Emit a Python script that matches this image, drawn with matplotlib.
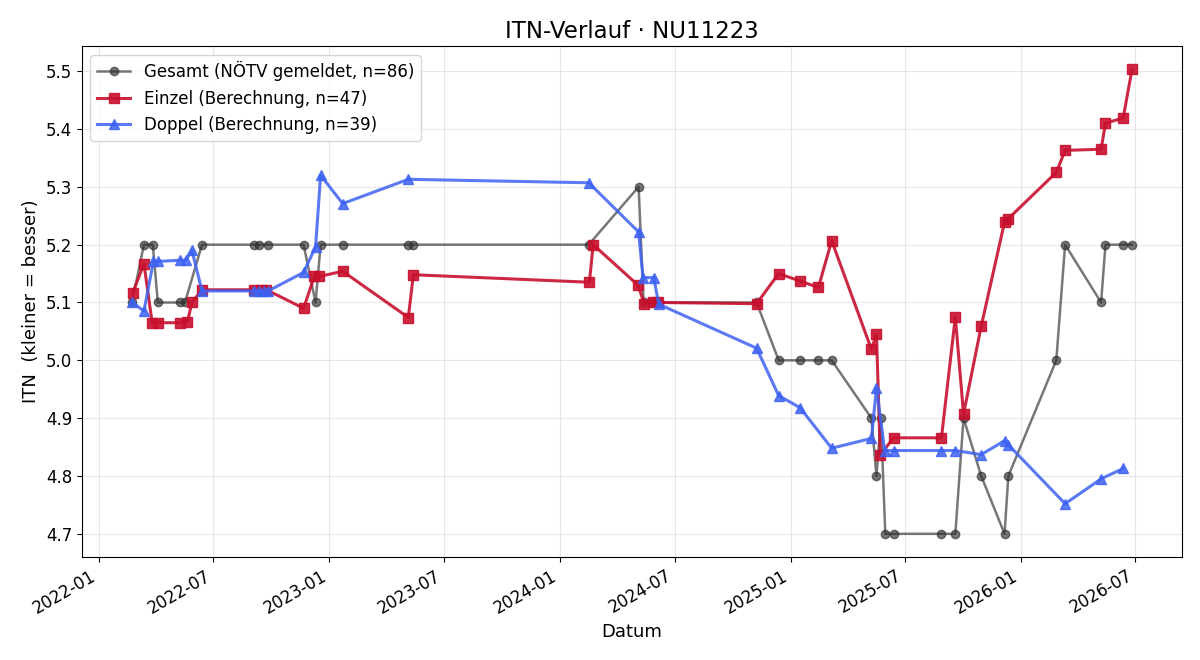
import matplotlib
matplotlib.use("Agg")
import matplotlib.pyplot as plt
import matplotlib.dates as mdates
import pandas as pd

gesamt_dates = ["2022-02-22", "2022-03-13", "2022-03-27", "2022-04-04", "2022-05-09", "2022-05-17",
                "2022-06-13", "2022-09-04", "2022-09-12", "2022-09-26", "2022-11-21", "2022-12-10",
                "2022-12-18", "2023-01-22", "2023-05-05", "2023-05-13", "2024-02-16", "2024-05-05",
                "2024-05-13", "2024-05-28", "2024-06-05", "2024-11-08", "2024-12-13", "2025-01-16",
                "2025-02-14", "2025-03-07", "2025-05-09", "2025-05-17", "2025-05-24", "2025-05-31",
                "2025-06-13", "2025-08-28", "2025-09-19", "2025-10-02", "2025-10-30", "2025-12-06",
                "2025-12-12", "2026-02-26", "2026-03-12", "2026-05-08", "2026-05-15", "2026-06-12",
                "2026-06-26"]
gesamt_values = [5.1, 5.2, 5.2, 5.1, 5.1, 5.1,
                 5.2, 5.2, 5.2, 5.2, 5.2, 5.1,
                 5.2, 5.2, 5.2, 5.2, 5.2, 5.3,
                 5.1, 5.1, 5.1, 5.1, 5.0, 5.0,
                 5.0, 5.0, 4.9, 4.8, 4.9, 4.7,
                 4.7, 4.7, 4.7, 4.9, 4.8, 4.7,
                 4.8, 5.0, 5.2, 5.1, 5.2, 5.2,
                 5.2]

einzel_dates = ["2022-02-23", "2022-03-13", "2022-03-26", "2022-04-04", "2022-05-09", "2022-05-21",
                "2022-05-28", "2022-06-13", "2022-09-04", "2022-09-14", "2022-09-23", "2022-11-21",
                "2022-12-08", "2022-12-16", "2023-01-22", "2023-05-06", "2023-05-14", "2024-02-17",
                "2024-02-23", "2024-05-04", "2024-05-14", "2024-05-28", "2024-06-05", "2024-11-08",
                "2024-12-13", "2025-01-16", "2025-02-14", "2025-03-07", "2025-05-09", "2025-05-17",
                "2025-05-23", "2025-06-13", "2025-08-28", "2025-09-19", "2025-10-02", "2025-10-30",
                "2025-12-06", "2025-12-12", "2026-02-26", "2026-03-12", "2026-05-08", "2026-05-15",
                "2026-06-12", "2026-06-26"]
einzel_values = [5.116, 5.167, 5.065, 5.065, 5.065, 5.067,
                 5.100, 5.122, 5.122, 5.122, 5.122, 5.090,
                 5.145, 5.145, 5.154, 5.074, 5.148, 5.135,
                 5.200, 5.130, 5.098, 5.100, 5.100, 5.098,
                 5.150, 5.137, 5.126, 5.207, 5.019, 5.045,
                 4.836, 4.866, 4.866, 5.075, 4.907, 5.059,
                 5.239, 5.245, 5.325, 5.363, 5.365, 5.410,
                 5.419, 5.503]

doppel_dates = ["2022-02-22", "2022-03-13", "2022-03-28", "2022-04-04", "2022-05-09", "2022-05-18",
                "2022-05-28", "2022-06-13", "2022-09-04", "2022-09-12", "2022-09-20", "2022-09-26",
                "2022-11-21", "2022-12-10", "2022-12-18", "2023-01-22", "2023-05-06", "2024-02-16",
                "2024-05-05", "2024-05-12", "2024-05-29", "2024-06-06", "2024-11-08", "2024-12-13",
                "2025-01-16", "2025-03-07", "2025-05-09", "2025-05-17", "2025-05-30", "2025-06-13",
                "2025-08-28", "2025-09-19", "2025-10-30", "2025-12-06", "2025-12-12", "2026-03-12",
                "2026-05-08", "2026-06-12"]
doppel_values = [5.101, 5.085, 5.171, 5.171, 5.173, 5.173,
                 5.190, 5.120, 5.120, 5.120, 5.120, 5.120,
                 5.152, 5.196, 5.320, 5.271, 5.313, 5.307,
                 5.222, 5.143, 5.143, 5.097, 5.021, 4.939,
                 4.918, 4.848, 4.865, 4.952, 4.844, 4.844,
                 4.844, 4.844, 4.837, 4.861, 4.854, 4.752,
                 4.795, 4.813]

labels = ["Gesamt (NÖTV gemeldet, n=86)",
          "Einzel (Berechnung, n=47)",
          "Doppel (Berechnung, n=39)"]

fig, ax = plt.subplots(figsize=(12, 6.6), dpi=100)

ax.plot(pd.to_datetime(gesamt_dates), gesamt_values, marker="o", color="#2f2f2f",
        alpha=0.65, linewidth=1.8, markersize=6, label=labels[0], zorder=2)
ax.plot(pd.to_datetime(einzel_dates), einzel_values, marker="s", color="#C8102E",
        alpha=0.9, linewidth=2.2, markersize=7, label=labels[1], zorder=3)
ax.plot(pd.to_datetime(doppel_dates), doppel_values, marker="^", color="#3D62F2",
        alpha=0.85, linewidth=2.2, markersize=7, label=labels[2], zorder=4)

ax.set_title("ITN-Verlauf · NU11223", fontsize=16.5)
ax.set_xlabel("Datum", fontsize=13)
ax.set_ylabel("ITN  (kleiner = besser)", fontsize=13)
ax.xaxis.set_major_locator(mdates.MonthLocator(bymonth=[1, 7]))
ax.xaxis.set_major_formatter(mdates.DateFormatter("%Y-%m"))
ax.tick_params(labelsize=12)
ax.grid(True, alpha=0.3)
ax.legend(loc="upper left", fontsize=12)
fig.autofmt_xdate()
fig.subplots_adjust(left=0.0683, right=0.985, top=0.930, bottom=0.156)
fig.savefig("out.png", dpi=100)
